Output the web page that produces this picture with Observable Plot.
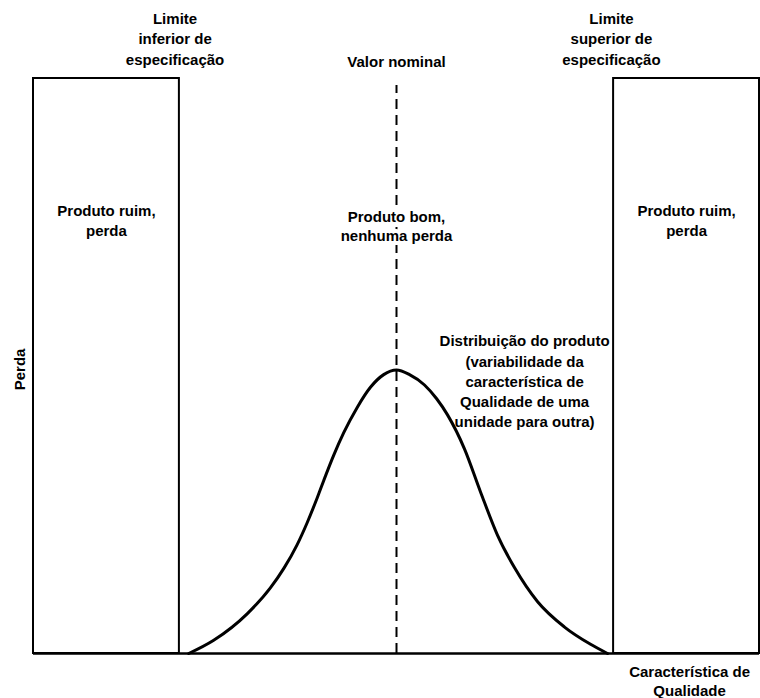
<!DOCTYPE html>
<html>
<head>
<meta charset="utf-8">
<script src="https://cdn.jsdelivr.net/npm/d3@7"></script>
<script src="https://cdn.jsdelivr.net/npm/@observablehq/plot@0.6"></script>
<style>
  html, body { margin: 0; padding: 0; background: #fff; }
</style>
</head>
<body>
<div id="chart"></div>
<script>
// Quality characteristic axis: nominal = 0, specification limits at ±1
const xExtent = [-1.672, 1.672];
const nominalValue = 0;
const limitValues = [-1, 1];
const limitLabels = ["Limite\ninferior de\nespecificação", "Limite\nsuperior de\nespecificação"];
const limitLabelX = [-1.02, 0.99];

// Loss regions (outside spec limits): loss = 1
const lossRegionX1 = [-1.672, 1];
const lossRegionX2 = [-1, 1.672];
const lossLevel = 1;
const lossRegionLabel = "Produto ruim,\nperda";
const goodLabel = "Produto bom,\nnenhuma perda";
const nominalLabel = "Valor nominal";

// Product distribution curve
const curveX = [-0.957, -0.842, -0.688, -0.581, -0.519, -0.458, -0.412, -0.365, -0.335, -0.289, -0.243, -0.181, -0.120, -0.059, 0.0,
                0.060, 0.129, 0.185, 0.235, 0.313, 0.387, 0.465, 0.544, 0.650, 0.774, 0.894, 0.972];
const curveY = [0.0, 0.023, 0.069, 0.114, 0.148, 0.189, 0.227, 0.271, 0.301, 0.345, 0.384, 0.428, 0.463, 0.485, 0.493,
                0.485, 0.467, 0.443, 0.415, 0.356, 0.281, 0.206, 0.149, 0.090, 0.046, 0.016, 0.0];
const distributionLabel = "Distribuição do produto\n(variabilidade da\ncaracterística de\nQualidade de uma\nunidade para outra)";

const yLabel = "Perda";
const xLabel = "Característica de\nQualidade";

const curve = curveX.map((x, i) => ({x, y: curveY[i]}));
const regions = lossRegionX1.map((x1, i) => ({x1, x2: lossRegionX2[i], y1: 0, y2: lossLevel}));
const limits = limitValues.map((v, i) => ({x: limitLabelX[i], label: limitLabels[i]}));

const font = {fontFamily: "'Liberation Sans', Arial, Helvetica, sans-serif", fontWeight: "bold", fontSize: 15, fill: "black"};

const chart = Plot.plot({
  width: 760,
  height: 698,
  marginLeft: 33,
  marginRight: 1,
  marginTop: 78,
  marginBottom: 45,
  x: {domain: xExtent, axis: null},
  y: {domain: [0, 1], axis: null},
  marks: [
    Plot.rect(regions, {x1: "x1", x2: "x2", y1: "y1", y2: "y2", fill: "none", stroke: "black", strokeWidth: 2}),
    Plot.ruleY([0], {x1: xExtent[0], x2: xExtent[1], stroke: "black", strokeWidth: 2.5}),
    Plot.ruleX([nominalValue], {y1: 0, y2: 0.988, stroke: "black", strokeWidth: 2, strokeDasharray: "10,6"}),
    Plot.line(curve, {x: "x", y: "y", curve: "monotone-x", stroke: "black", strokeWidth: 3, strokeLinejoin: "round"}),
    Plot.text(limits, {x: "x", y: 1.071, text: "label", lineAnchor: "middle", lineHeight: 1.37, ...font}),
    Plot.text([nominalLabel], {x: nominalValue, y: 1.028, text: d => d, ...font}),
    Plot.text(regions, {x: d => (d.x1 + d.x2) / 2, y: 0.754, text: () => lossRegionLabel, lineHeight: 1.3, ...font}),
    Plot.text([goodLabel], {x: nominalValue, y: 0.745, text: d => d, lineHeight: 1.33, stroke: "white", strokeWidth: 8, paintOrder: "stroke", ...font}),
    Plot.text([distributionLabel], {x: 0.59, y: 0.475, text: d => d, lineHeight: 1.35, ...font}),
    Plot.text([yLabel], {x: -1.733, y: 0.494, text: d => d, rotate: -90, ...font}),
    Plot.text([xLabel], {x: 1.35, y: -0.046, text: d => d, lineHeight: 1.27, ...font})
  ]
});
document.getElementById("chart").appendChild(chart);
</script>
</body>
</html>
